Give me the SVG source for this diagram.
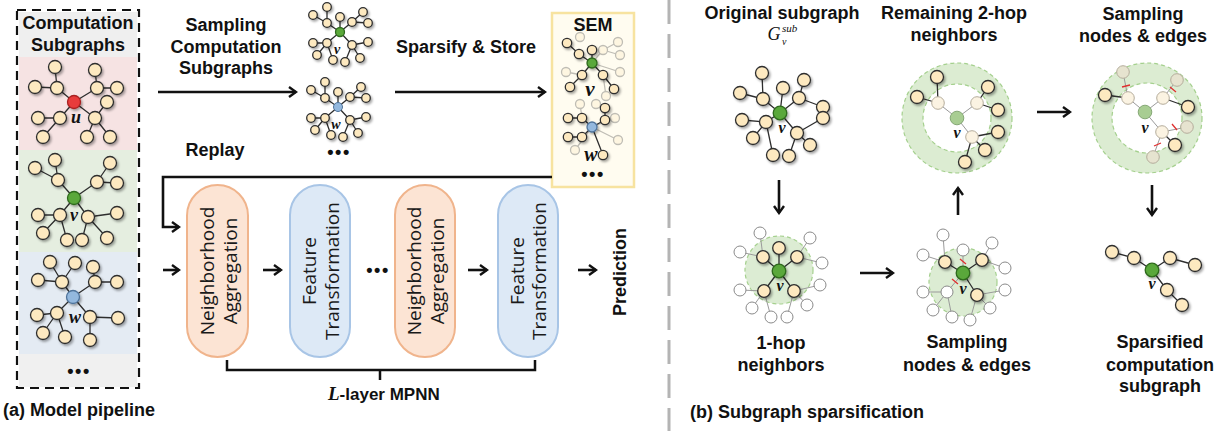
<svg xmlns="http://www.w3.org/2000/svg" width="1222" height="431" viewBox="0 0 1222 431">
<defs>
<style>
.n{fill:#fde9c0;stroke:#2e2e2e;stroke-width:1.3}
.e{stroke:#2e2e2e;stroke-width:1.3;fill:none}
.fn{fill:#fff;stroke:#8a8a8a;stroke-width:1}
.fe{stroke:#9a9a9a;stroke-width:1;fill:none}
.pn{fill:#fbf3e2;stroke:#b5ad9c;stroke-width:1}
.pg{fill:#a8cd92;stroke:#86a877;stroke-width:1}
.gn{fill:#5aa83a;stroke:#2f6a1e;stroke-width:1.3}
.h{font-family:"Liberation Sans",Arial,sans-serif;font-weight:bold;font-size:18px;text-anchor:middle;fill:#111}
.m{font-family:"Liberation Serif","Times New Roman",serif;font-style:italic;font-weight:bold;text-anchor:middle;fill:#111}
.p{font-family:"Open Sans","Noto Sans",sans-serif;font-size:19px;text-anchor:middle;fill:#1a1a1a}
.ar{stroke:#111;stroke-width:2.6;fill:none;marker-end:url(#ah)}
.dots{font-family:"Liberation Sans",Arial,sans-serif;font-size:18px;font-weight:bold;text-anchor:middle;letter-spacing:1.5px;fill:#111}
.ring{fill:#dcecd2;stroke:#a5d08e;stroke-width:1.2;stroke-dasharray:4 3}
.hole{fill:#fff;stroke:#a5d08e;stroke-width:1.2;stroke-dasharray:4 3}
.disk{fill:#d6e9cb;fill-opacity:0.85;stroke:#a5d08e;stroke-width:1.2;stroke-dasharray:4 3}
.cut{stroke:#e03030;stroke-width:1.3}
.na{fill:#fce4d4;stroke:#f0b48c;stroke-width:2}
.ft{fill:#dde9f6;stroke:#a8c5e6;stroke-width:2}
</style>
<marker id="ah" viewBox="0 0 10 12" refX="8" refY="6" markerWidth="10" markerHeight="12" markerUnits="userSpaceOnUse" orient="auto"><path d="M1,1 L8,6 L1,11" fill="none" stroke="#111" stroke-width="2.4"/></marker>
<filter id="sh" x="-30%" y="-30%" width="160%" height="160%"><feDropShadow dx="1.5" dy="1.8" stdDeviation="1.2" flood-color="#000" flood-opacity="0.35"/></filter>
<g id="sg">
<path class="e" stroke-width="1" d="M313,15L327,23 M327,7L327,23 M327,23L340,32 M340,17L340,32 M363,12L352,22 M368,23L352,22 M352,22L340,32 M340,32L327,43 M313,43L327,43 M327,43L317,55 M327,43L333,60 M340,32L352,45 M352,45L368,42 M352,45L345,62 M352,45L360,58"/>
<g class="n" stroke-width="1" filter="url(#sh)">
<circle cx="313" cy="15" r="4.3"/><circle cx="327" cy="7" r="4.3"/><circle cx="327" cy="23" r="4.3"/><circle cx="340" cy="17" r="4.3"/><circle cx="352" cy="22" r="4.3"/><circle cx="363" cy="12" r="4.3"/><circle cx="368" cy="23" r="4.3"/><circle cx="313" cy="43" r="4.3"/><circle cx="327" cy="43" r="4.3"/><circle cx="352" cy="45" r="4.3"/><circle cx="368" cy="42" r="4.3"/><circle cx="317" cy="55" r="4.3"/><circle cx="333" cy="60" r="4.3"/><circle cx="345" cy="62" r="4.3"/><circle cx="360" cy="58" r="4.3"/>
</g>
</g>
</defs>
<rect width="1222" height="431" fill="#fff"/>

<!-- (a) left panel -->
<g id="computation-subgraphs">
<rect x="19" y="12" width="118" height="45" fill="#efefef"/>
<rect x="19" y="57" width="118" height="93" fill="#f6e3e3"/>
<rect x="19" y="150" width="118" height="102" fill="#e5eee0"/>
<rect x="19" y="252" width="118" height="102" fill="#e4ebf3"/>
<rect x="19" y="354" width="118" height="33" fill="#f0f0f0"/>
<rect x="17" y="10" width="122" height="378" fill="none" stroke="#111" stroke-width="2.2" stroke-dasharray="9 6"/>
<text class="h" x="78" y="29">Computation</text>
<text class="h" x="78" y="51">Subgraphs</text>
<text class="dots" x="79" y="377">•••</text>
</g>
<g id="graph-u">
<path class="e" d="M55,67L57,88 M35,87L57,88 M57,88L74,102 M95,70L97,88 M97,88L117,88 M97,88L74,102 M74,102L60,118 M38,118L60,118 M60,118L43,137 M74,102L95,118 M95,118L107,102 M95,118L87,137 M95,118L110,137"/>
<g class="n" filter="url(#sh)">
<circle cx="55" cy="67" r="6.5"/><circle cx="35" cy="87" r="6.5"/><circle cx="57" cy="88" r="6.5"/><circle cx="95" cy="70" r="6.5"/><circle cx="97" cy="88" r="6.5"/><circle cx="117" cy="88" r="6.5"/><circle cx="107" cy="102" r="6.5"/><circle cx="60" cy="118" r="6.5"/><circle cx="38" cy="118" r="6.5"/><circle cx="95" cy="118" r="6.5"/><circle cx="43" cy="137" r="6.5"/><circle cx="87" cy="137" r="6.5"/><circle cx="110" cy="137" r="6.5"/>
<circle cx="74" cy="102" r="6.5" fill="#e83a3a" stroke="#a82020"/>
</g>
<text class="m" x="76" y="123" font-size="18">u</text>
</g>
<g id="graph-v-left">
<path class="e" d="M55,160L58,180 M35,168L58,180 M58,180L74,198 M110,163L97,182 M97,182L117,183 M97,182L74,198 M74,198L60,215 M38,215L60,215 M60,215L43,233 M60,215L67,240 M74,198L88,217 M88,217L117,213 M88,217L82,240 M88,217L107,238"/>
<g class="n" filter="url(#sh)">
<circle cx="55" cy="160" r="6.5"/><circle cx="35" cy="168" r="6.5"/><circle cx="58" cy="180" r="6.5"/><circle cx="110" cy="163" r="6.5"/><circle cx="97" cy="182" r="6.5"/><circle cx="117" cy="183" r="6.5"/><circle cx="60" cy="215" r="6.5"/><circle cx="38" cy="215" r="6.5"/><circle cx="43" cy="233" r="6.5"/><circle cx="67" cy="240" r="6.5"/><circle cx="88" cy="217" r="6.5"/><circle cx="117" cy="213" r="6.5"/><circle cx="82" cy="240" r="6.5"/><circle cx="107" cy="238" r="6.5"/>
<circle class="gn" cx="74" cy="198" r="6.5"/>
</g>
<text class="m" x="74" y="221" font-size="18">v</text>
</g>
<g id="graph-w-left">
<path class="e" d="M50,262L62,282 M38,280L62,282 M75,263L62,282 M62,282L73,297 M93,267L95,282 M95,282L117,282 M95,282L73,297 M73,297L57,313 M37,315L57,313 M57,313L43,333 M57,313L65,337 M73,297L90,317 M90,317L118,318 M90,317L90,340"/>
<g class="n" filter="url(#sh)">
<circle cx="50" cy="262" r="6.5"/><circle cx="75" cy="263" r="6.5"/><circle cx="93" cy="267" r="6.5"/><circle cx="38" cy="280" r="6.5"/><circle cx="62" cy="282" r="6.5"/><circle cx="95" cy="282" r="6.5"/><circle cx="117" cy="282" r="6.5"/><circle cx="37" cy="315" r="6.5"/><circle cx="57" cy="313" r="6.5"/><circle cx="90" cy="317" r="6.5"/><circle cx="118" cy="318" r="6.5"/><circle cx="43" cy="333" r="6.5"/><circle cx="65" cy="337" r="6.5"/><circle cx="90" cy="340" r="6.5"/>
<circle cx="73" cy="297" r="6.5" fill="#93b8de" stroke="#4f739a"/>
</g>
<text class="m" x="75" y="323" font-size="18">w</text>
</g>

<g id="sampled-subgraphs">
<use href="#sg"/>
<circle class="gn" cx="340" cy="32" r="4.5" stroke-width="1"/>
<text class="m" x="337" y="54" font-size="14">v</text>
<use href="#sg" transform="translate(-2,75)"/>
<circle cx="338" cy="107" r="4.5" fill="#93b8de" stroke="#4f739a"/>
<text class="m" x="336" y="129" font-size="14">w</text>
<text class="dots" x="339" y="158">•••</text>
</g>

<g id="sem">
<rect x="552" y="13" width="82" height="174" fill="#fffcf0" stroke="#f7e3a0" stroke-width="2.5"/>
<text class="h" x="593" y="31">SEM</text>
<g opacity="0.3">
<path class="e" d="M592,63L603,50 M603,50L618,42 M603,50L620,55 M592,63L620,72 M582,75L566,72 M603,75L606,96 M592,127L615,118 M592,127L618,140 M592,127L575,150 M582,118L580,104 M605,120L618,118"/>
<g class="n"><circle cx="580" cy="37" r="4.5"/><circle cx="603" cy="50" r="4.5"/><circle cx="618" cy="42" r="4.5"/><circle cx="620" cy="55" r="4.5"/><circle cx="620" cy="72" r="4.5"/><circle cx="566" cy="72" r="4.5"/><circle cx="606" cy="96" r="4.5"/><circle cx="580" cy="104" r="4.5"/><circle cx="596" cy="104" r="4.5"/><circle cx="615" cy="118" r="4.5"/><circle cx="618" cy="140" r="4.5"/><circle cx="575" cy="150" r="4.5"/></g>
</g>
<path class="e" d="M567,43L579,54 M579,54L592,63 M592,50L592,63 M592,63L582,75 M582,75L570,87 M592,63L603,75 M603,75L614,89 M568,118L582,118 M582,118L592,127 M605,108L605,120 M605,120L592,127 M592,127L582,137 M582,137L568,137 M592,127L603,155"/>
<g class="n" stroke-width="1.1" filter="url(#sh)">
<circle cx="567" cy="43" r="4.7"/><circle cx="579" cy="54" r="4.7"/><circle cx="592" cy="50" r="4.7"/><circle cx="582" cy="75" r="4.7"/><circle cx="570" cy="87" r="4.7"/><circle cx="603" cy="75" r="4.7"/><circle cx="614" cy="89" r="4.7"/>
<circle cx="568" cy="118" r="4.7"/><circle cx="582" cy="118" r="4.7"/><circle cx="605" cy="108" r="4.7"/><circle cx="605" cy="120" r="4.7"/><circle cx="582" cy="137" r="4.7"/><circle cx="568" cy="137" r="4.7"/><circle cx="603" cy="155" r="4.7"/>
<circle class="gn" cx="592" cy="63" r="5"/>
<circle cx="592" cy="127" r="5" fill="#93b8de" stroke="#4f739a"/>
</g>
<text class="m" x="590" y="96" font-size="21">v</text>
<text class="m" x="591" y="161" font-size="20">w</text>
<text class="dots" x="593" y="180">•••</text>
</g>

<g id="label-sampling">
<text class="h" x="226" y="31">Sampling</text>
<text class="h" x="226" y="53">Computation</text>
<text class="h" x="226" y="74">Subgraphs</text>
</g>
<text id="label-sparsify" class="h" x="466" y="53">Sparsify &amp; Store</text>
<text id="label-replay" class="h" x="215" y="156">Replay</text>

<g id="neighborhood-aggregation-1">
<rect class="na" x="187" y="185" width="61" height="172" rx="30.5"/>
<text class="p" transform="translate(207,271) rotate(-90)" dy="0.35em">Neighborhood</text>
<text class="p" transform="translate(230,271) rotate(-90)" dy="0.35em">Aggregation</text>
</g>
<g id="feature-transformation-1">
<rect class="ft" x="290" y="185" width="60" height="172" rx="30"/>
<text class="p" transform="translate(309,271) rotate(-90)" dy="0.35em">Feature</text>
<text class="p" transform="translate(332,271) rotate(-90)" dy="0.35em">Transformation</text>
</g>
<g id="neighborhood-aggregation-2">
<rect class="na" x="395" y="185" width="60" height="172" rx="30"/>
<text class="p" transform="translate(414,271) rotate(-90)" dy="0.35em">Neighborhood</text>
<text class="p" transform="translate(437,271) rotate(-90)" dy="0.35em">Aggregation</text>
</g>
<g id="feature-transformation-2">
<rect class="ft" x="498" y="185" width="60" height="172" rx="30"/>
<text class="p" transform="translate(517,271) rotate(-90)" dy="0.35em">Feature</text>
<text class="p" transform="translate(539,271) rotate(-90)" dy="0.35em">Transformation</text>
</g>
<text class="dots" x="378" y="276">•••</text>
<text id="prediction" class="h" font-size="17" transform="translate(620,272) rotate(-90)" dy="0.35em">Prediction</text>
<g id="mpnn-bracket">
<path d="M227,360V370H535V360 M380,370V380" fill="none" stroke="#111" stroke-width="2.5"/>
<text x="328" y="400" font-family="Liberation Sans,Arial,sans-serif" font-weight="bold" font-size="17" fill="#111"><tspan font-family="Liberation Serif,serif" font-style="italic" font-size="19">L</tspan>-layer MPNN</text>
</g>
<text class="h" x="3" y="416" style="text-anchor:start" font-size="17.5">(a) Model pipeline</text>

<!-- divider -->
<line x1="669" y1="0" x2="669" y2="431" stroke="#b4b4b4" stroke-width="3" stroke-dasharray="24 10"/>

<!-- (b) right panel -->
<g id="original-subgraph">
<text class="h" x="782" y="19">Original subgraph</text>
<text x="774" y="40" font-family="Liberation Serif,serif" font-style="italic" font-size="18" fill="#111" text-anchor="middle">G</text>
<text x="782" y="32" font-family="Liberation Serif,serif" font-style="italic" font-size="11" fill="#111">sub</text>
<text x="782" y="45" font-family="Liberation Serif,serif" font-style="italic" font-size="10" fill="#111">v</text>
<path class="e" d="M762,73L763,99 M740,93L763,99 M763,99L780,113 M783,88L780,113 M804,80L799,98 M799,98L823,107 M799,98L780,113 M780,113L766,122 M742,120L766,122 M766,122L753,138 M766,122L773,155 M780,113L797,133 M797,133L823,118 M797,133L810,145 M797,133L789,156"/>
<g class="n" filter="url(#sh)">
<circle cx="762" cy="73" r="6.5"/><circle cx="740" cy="93" r="6.5"/><circle cx="763" cy="99" r="6.5"/><circle cx="783" cy="88" r="6.5"/><circle cx="804" cy="80" r="6.5"/><circle cx="799" cy="98" r="6.5"/><circle cx="823" cy="107" r="6.5"/><circle cx="742" cy="120" r="6.5"/><circle cx="766" cy="122" r="6.5"/><circle cx="823" cy="118" r="6.5"/><circle cx="797" cy="133" r="6.5"/><circle cx="753" cy="138" r="6.5"/><circle cx="810" cy="145" r="6.5"/><circle cx="773" cy="155" r="6.5"/><circle cx="789" cy="156" r="6.5"/>
<circle class="gn" cx="780" cy="113" r="6.8"/>
</g>
<text class="m" x="782" y="133" font-size="16">v</text>
</g>

<g id="one-hop">
<circle class="disk" cx="779" cy="270" r="34"/>
<path class="fe" d="M760,233L763,257 M740,252L763,257 M810,238L797,257 M822,263L797,257 M740,290L764,291 M752,308L764,291 M771,317L764,291 M820,285L794,291 M807,305L794,291 M787,317L794,291"/>
<g class="fn"><circle cx="760" cy="233" r="6"/><circle cx="810" cy="238" r="6"/><circle cx="740" cy="252" r="6"/><circle cx="822" cy="263" r="6"/><circle cx="820" cy="285" r="6"/><circle cx="740" cy="290" r="6"/><circle cx="807" cy="305" r="6"/><circle cx="752" cy="308" r="6"/><circle cx="771" cy="317" r="6"/><circle cx="787" cy="317" r="6"/></g>
<path class="e" d="M779,271L779,248 M779,271L763,257 M779,271L797,257 M779,271L764,291 M779,271L794,291"/>
<g class="n" filter="url(#sh)">
<circle cx="779" cy="248" r="6.3"/><circle cx="763" cy="257" r="6.3"/><circle cx="797" cy="257" r="6.3"/><circle cx="764" cy="291" r="6.3"/><circle cx="794" cy="291" r="6.3"/>
<circle class="gn" cx="779" cy="271" r="6.8"/>
</g>
<text class="m" x="780" y="291" font-size="16">v</text>
<text class="h" x="781" y="349">1-hop</text>
<text class="h" x="781" y="371">neighbors</text>
</g>

<g id="sampling-bottom">
<circle class="disk" cx="963" cy="282" r="34"/>
<path class="fe" d="M943,235L945,262 M923,255L945,262 M992,243L982,260 M1005,268L982,260 M1005,290L977,295 M990,308L977,295 M970,320L977,295 M923,292L947,292 M933,310L947,292 M952,317L947,292 M963,273L963,250 M963,273L947,292"/>
<g class="fn"><circle cx="943" cy="235" r="6"/><circle cx="923" cy="255" r="6"/><circle cx="992" cy="243" r="6"/><circle cx="963" cy="250" r="6"/><circle cx="1005" cy="268" r="6"/><circle cx="1005" cy="290" r="6"/><circle cx="923" cy="292" r="6"/><circle cx="947" cy="292" r="6"/><circle cx="933" cy="310" r="6"/><circle cx="952" cy="317" r="6"/><circle cx="970" cy="320" r="6"/><circle cx="990" cy="308" r="6"/></g>
<path class="cut" d="M960,259L966,264 M952,279L958,284"/>
<path class="e" d="M963,273L945,262 M963,273L982,260 M963,273L977,295"/>
<g class="n" filter="url(#sh)">
<circle cx="945" cy="262" r="6.3"/><circle cx="982" cy="260" r="6.3"/><circle cx="977" cy="295" r="6.3"/>
<circle class="gn" cx="963" cy="273" r="6.8"/>
</g>
<text class="m" x="963" y="294" font-size="16">v</text>
<text class="h" x="967" y="348">Sampling</text>
<text class="h" x="967" y="371">nodes &amp; edges</text>
</g>

<g id="remaining-two-hop">
<text class="h" x="954" y="19">Remaining 2-hop</text>
<text class="h" x="954" y="41">neighbors</text>
<circle class="ring" cx="957" cy="118" r="55"/>
<circle class="hole" cx="957" cy="118" r="34"/>
<path class="fe" d="M957,118L938,103 M957,118L977,103 M957,118L972,137"/>
<path class="e" d="M937,77L938,103 M917,97L938,103 M988,87L977,103 M998,110L977,103 M998,132L972,137 M985,150L972,137 M965,162L972,137"/>
<g class="pn"><circle cx="938" cy="103" r="6.3"/><circle cx="977" cy="103" r="6.3"/><circle cx="972" cy="137" r="6.3"/></g>
<circle class="pg" cx="957" cy="118" r="6.8"/>
<g class="n" filter="url(#sh)">
<circle cx="937" cy="77" r="6.5"/><circle cx="917" cy="97" r="6.5"/><circle cx="988" cy="87" r="6.5"/><circle cx="998" cy="110" r="6.5"/><circle cx="998" cy="132" r="6.5"/><circle cx="985" cy="150" r="6.5"/><circle cx="965" cy="162" r="6.5"/>
</g>
<text class="m" x="957" y="138" font-size="16">v</text>
</g>

<g id="sampling-top">
<text class="h" x="1143" y="20">Sampling</text>
<text class="h" x="1143" y="42">nodes &amp; edges</text>
<circle class="ring" cx="1147" cy="118" r="55"/>
<circle class="hole" cx="1147" cy="118" r="35"/>
<path class="fe" d="M1145,112L1128,98 M1145,112L1163,98 M1145,112L1162,132 M1123,72L1128,98 M1177,80L1163,98 M1187,127L1162,132 M1153,157L1162,132"/>
<path class="e" d="M1105,95L1128,98 M1188,107L1163,98 M1175,145L1162,132"/>
<g class="pn"><circle cx="1128" cy="98" r="6.3"/><circle cx="1163" cy="98" r="6.3"/><circle cx="1162" cy="132" r="6.3"/>
<circle cx="1123" cy="72" r="6.3" fill="#e6e3cf"/><circle cx="1177" cy="80" r="6.3" fill="#e6e3cf"/><circle cx="1187" cy="127" r="6.3" fill="#e6e3cf"/><circle cx="1153" cy="157" r="6.3" fill="#e6e3cf"/></g>
<circle class="pg" cx="1145" cy="112" r="6.8"/>
<path class="cut" d="M1122,87L1130,85 M1170,87L1176,92 M1172,124L1177,130 M1154,146L1161,143"/>
<g class="n" filter="url(#sh)">
<circle cx="1105" cy="95" r="6.5"/><circle cx="1188" cy="107" r="6.5"/><circle cx="1175" cy="145" r="6.5"/>
</g>
<text class="m" x="1145" y="133" font-size="16">v</text>
</g>

<g id="sparsified-subgraph">
<path class="e" d="M1112,252L1134,258 M1134,258L1152,270 M1152,270L1170,258 M1170,258L1195,265 M1152,270L1167,290 M1167,290L1182,305"/>
<g class="n" filter="url(#sh)">
<circle cx="1112" cy="252" r="6.5"/><circle cx="1134" cy="258" r="6.5"/><circle cx="1170" cy="258" r="6.5"/><circle cx="1195" cy="265" r="6.5"/><circle cx="1167" cy="290" r="6.5"/><circle cx="1182" cy="305" r="6.5"/>
<circle class="gn" cx="1152" cy="270" r="6.8"/>
</g>
<text class="m" x="1152" y="289" font-size="16">v</text>
<text class="h" x="1160" y="348">Sparsified</text>
<text class="h" x="1160" y="371">computation</text>
<text class="h" x="1160" y="392">subgraph</text>
</g>
<text class="h" x="690" y="418" style="text-anchor:start" font-size="17.5">(b) Subgraph sparsification</text>

<g id="connectors">
<path class="ar" d="M158,92H296"/>
<path class="ar" d="M395,92H545"/>
<path class="ar" d="M552,177H163V227H179"/>
<path class="ar" d="M163,270H179"/>
<path class="ar" d="M263,270H281"/>
<path class="ar" d="M468,270H487"/>
<path class="ar" d="M578,270H596"/>
<path class="ar" d="M779,180V213"/>
<path class="ar" d="M860,273H893"/>
<path class="ar" d="M958,215V188"/>
<path class="ar" d="M1037,112H1070"/>
<path class="ar" d="M1152,185V215"/>
</g>
</svg>
